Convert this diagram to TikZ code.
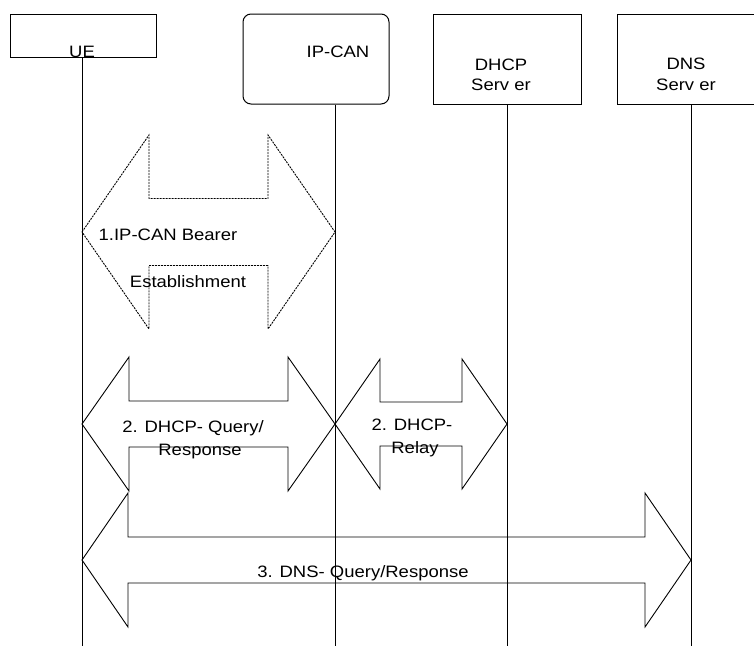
\documentclass[tikz,border=0pt]{standalone}
\usepackage{fontspec}
\setmainfont[FakeStretch=1.12]{Liberation Sans}
\usetikzlibrary{calc}
\tikzset{
    entity/.style = {draw=black, line width=1pt, inner sep=0pt},
    lifeline/.style = {draw=black, line width=0.9pt},
    blockarrow/.style = {draw=black, line width=0.9pt, line join=miter},
    msg/.style = {anchor=base, inner sep=0pt, font=\fontsize{16.5}{18}\selectfont}
}
% double block arrow between two tips: head length, head half height, shaft half height
\newcommand{\dblarrow}[6][]{%
    \draw[blockarrow,#1] (#2) -- ($(#2)+(#4,-#5)$) -- ($(#2)+(#4,-#6)$) -- ($(#3)+(-#4,-#6)$)
        -- ($(#3)+(-#4,-#5)$) -- (#3) -- ($(#3)+(-#4,#5)$) -- ($(#3)+(-#4,#6)$)
        -- ($(#2)+(#4,#6)$) -- ($(#2)+(#4,#5)$) -- cycle;}

\begin{document}
\begin{tikzpicture}[x=1pt, y=-1pt]
    \useasboundingbox (0,0) rectangle (754,646);
    \clip (0,0) rectangle (754,646);

    % entities
    \node [entity, minimum width=146pt, minimum height=43pt] (ue) at (83,35.5) {};
    \node [entity, rounded corners=8pt, minimum width=146pt, minimum height=90pt] (ipcan) at (316,59) {};
    \node [entity, minimum width=148pt, minimum height=90pt] (dhcp) at (507,59) {};
    \node [entity, minimum width=148pt, minimum height=90pt] (dns) at (691,59) {};

    \node [msg] (ue-txt) at (82,57) {UE};
    \node [msg] (ipcan-txt) at (338,57) {IP-CAN};
    \node [msg] (dhcp-txt) at (501,70) {DHCP};
    \node [msg] (dhcp-txt2) at (501,90) {Serv er};
    \node [msg] (dns-txt) at (686,69) {DNS};
    \node [msg] (dns-txt2) at (686,90) {Serv er};

    % lifelines
    \coordinate (ue-b) at (82,646);
    \coordinate (ip-b) at (335,646);
    \coordinate (dhcp-b) at (507,646);
    \coordinate (dns-b) at (691,646);
    \draw [lifeline] (ue.south -| ue-b) -- (ue-b);
    \draw [lifeline] (ipcan.south -| ip-b) -- (ip-b);
    \draw [lifeline] (dhcp.south -| dhcp-b) -- (dhcp-b);
    \draw [lifeline] (dns.south -| dns-b) -- (dns-b);

    % 1. bearer establishment
    \coordinate (m1l) at (ue-b |- 0,232);
    \coordinate (m1r) at (ip-b |- 0,232);
    \dblarrow[dash pattern=on 2pt off 1pt]{m1l}{m1r}{67}{97}{33.5}
    \node [msg] (m1-txt) at (168,240.7) {1.IP-CAN Bearer};
    \node [msg] (m1-txt2) at (188,287.7) {Establishment};

    % 2. dhcp query / relay
    \coordinate (m2l) at (ue-b |- 0,424);
    \coordinate (m2r) at (ip-b |- 0,424);
    \dblarrow{m2l}{m2r}{47}{67}{23}
    \node [msg] (m2-txt) at (193,432) {2. DHCP- Query/};
    \node [msg] (m2-txt2) at (200,455) {Response};

    \coordinate (m3l) at (ip-b |- 0,424);
    \coordinate (m3r) at (dhcp-b |- 0,424);
    \dblarrow{m3l}{m3r}{45}{65}{22}
    \node [msg] (m3-txt) at (412,430) {2. DHCP-};
    \node [msg] (m3-txt2) at (415,453) {Relay};

    % 3. dns query
    \coordinate (m4l) at (ue-b |- 0,560);
    \coordinate (m4r) at (dns-b |- 0,560);
    \dblarrow{m4l}{m4r}{46}{67}{23}
    \node [msg] (m4-txt) at (363,577) {3. DNS- Query/Response};
\end{tikzpicture}
\end{document}
